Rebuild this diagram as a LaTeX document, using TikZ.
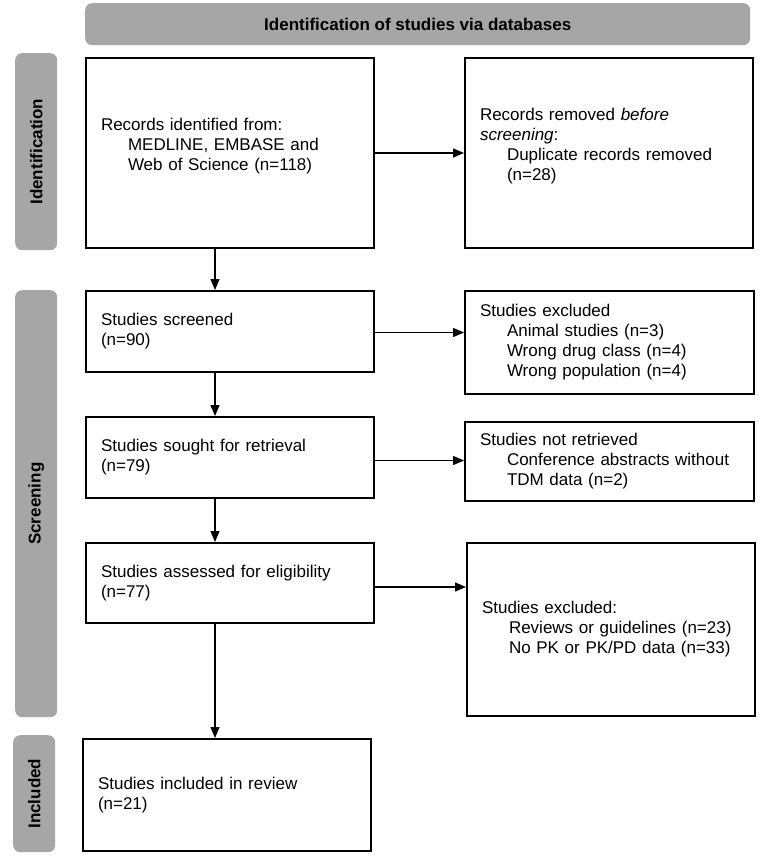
\documentclass[tikz,border=0pt]{standalone}
\usepackage{fontspec}
\setmainfont{Liberation Sans}
\usepackage{xcolor}
\usepackage{tikz}
\usetikzlibrary{positioning,calc,arrows.meta}
\definecolor{PrismaGray}{RGB}{166,166,166}
\newcommand{\ind}{\hspace*{27pt}}
\tikzset{
    stagebar/.style={rounded corners=7pt, fill=PrismaGray, draw=none, font=\fontsize{17}{20}\selectfont\bfseries},
    flowbox/.style={rectangle, draw=black, line width=2pt, anchor=north west, align=left, inner xsep=15pt, inner ysep=0pt},
    flowarrow/.style={draw, line width=1.3pt, -{Triangle[length=11pt,width=9pt]}}
}

\begin{document}
\begin{tikzpicture}[
        x=1pt, y=-1pt,
        % Font chung cho toan bo so do
        every node/.style={font=\fontsize{17}{20}\selectfont}
    ]
    \useasboundingbox (0,0) rectangle (765,862);

    % --- THANH TIEU DE VA CAC GIAI DOAN ---
    \node[stagebar, minimum width=665pt, minimum height=42pt, anchor=north west] (head) at (85,3) {Identification of studies via databases};
    \node[stagebar, minimum width=42pt, minimum height=197pt, anchor=north west] (stageId) at (15,53) {};
    \node[rotate=90, font=\fontsize{17}{20}\selectfont\bfseries] (stageIdTxt) at (stageId.center) {Identification};
    \node[stagebar, minimum width=42pt, minimum height=427pt, anchor=north west] (stageScr) at (15,290) {};
    \node[rotate=90, font=\fontsize{17}{20}\selectfont\bfseries] (stageScrTxt) at (stageScr.center) {Screening};
    \node[stagebar, minimum width=42pt, minimum height=117pt, anchor=north west] (stageInc) at (13,735) {};
    \node[rotate=90, font=\fontsize{17}{20}\selectfont\bfseries] (stageIncTxt) at (stageInc.center) {Included};

    % --- COT TRAI ---
    \node[flowbox, minimum width=288pt, minimum height=190pt, text width=258pt] (recs) at (85,57)
        {Records identified from:\\ \ind MEDLINE, EMBASE and\\ \ind Web of Science (n=118)\\[-2pt]~};
    \node[flowbox, minimum width=288pt, minimum height=81pt, text width=258pt] (screened) at (85,290)
        {Studies screened\\ (n=90)};
    \node[flowbox, minimum width=288pt, minimum height=81pt, text width=258pt] (sought) at (85,416)
        {Studies sought for retrieval\\ (n=79)};
    \node[flowbox, minimum width=288pt, minimum height=80pt, text width=258pt] (assessed) at (85,542)
        {Studies assessed for eligibility\\ (n=77)};
    \node[flowbox, minimum width=288pt, minimum height=112pt, text width=258pt] (incl) at (82,738)
        {Studies included in review\\ (n=21)};

    % --- COT PHAI ---
    \node[flowbox, minimum width=288pt, minimum height=190pt, text width=258pt] (removed) at (464,57)
        {Records removed \textit{before}\\ \textit{screening}:\\ \ind Duplicate records removed\\ \ind (n=28)\\[-2pt]~};
    \node[flowbox, minimum width=289pt, minimum height=103pt, text width=259pt] (excl) at (464,290)
        {Studies excluded\\ \ind Animal studies (n=3)\\ \ind Wrong drug class (n=4)\\ \ind Wrong population (n=4)};
    \node[flowbox, minimum width=289pt, minimum height=79pt, text width=259pt] (notret) at (464,421)
        {Studies not retrieved\\ \ind Conference abstracts without\\ \ind TDM data (n=2)};
    \node[flowbox, minimum width=288pt, minimum height=173pt, text width=258pt] (exclfull) at (466,542)
        {Studies excluded:\\ \ind Reviews or guidelines (n=23)\\ \ind No PK or PK/PD data (n=33)};

    % --- MUI TEN ---
    \coordinate (spine) at (215,0);
    \draw[flowarrow] (recs.south -| spine) -- (screened.north -| spine);
    \draw[flowarrow] (screened.south -| spine) -- (sought.north -| spine);
    \draw[flowarrow] (sought.south -| spine) -- (assessed.north -| spine);
    \draw[flowarrow] (assessed.south -| spine) -- (incl.north -| spine);

    \draw[flowarrow] (recs.east) -- (removed.west);
    \draw[flowarrow] ([yshift=-1pt]screened.east) -- ([yshift=-1pt]screened.east -| excl.west);
    \draw[flowarrow] ([yshift=-3pt]sought.east) -- ([yshift=-3pt]sought.east -| notret.west);
    \draw[flowarrow] ([yshift=-4pt]assessed.east) -- ([yshift=-4pt]assessed.east -| exclfull.west);

\end{tikzpicture}
\end{document}
